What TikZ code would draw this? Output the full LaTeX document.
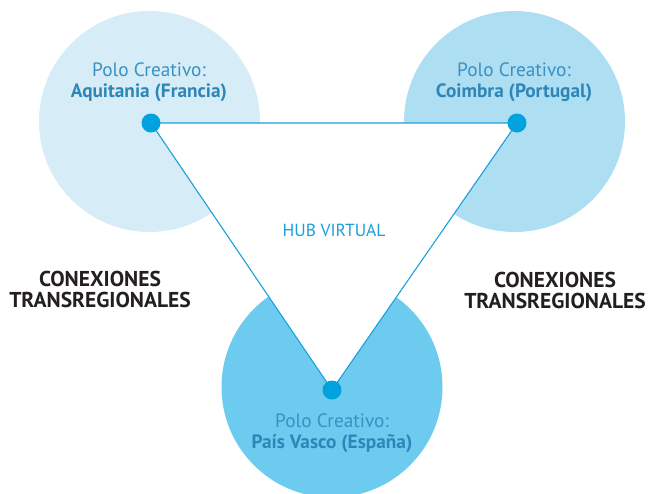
\documentclass[tikz,border=0pt]{standalone}
\usepackage{fontspec}
\setmainfont{PT Sans}
\definecolor{cA}{HTML}{D6EDF8}
\definecolor{cB}{HTML}{ADDEF2}
\definecolor{cC}{HTML}{6DCBEF}
\definecolor{dotc}{HTML}{00A3DE}
\definecolor{linec}{HTML}{1AA0DB}
\definecolor{txtb}{HTML}{2E86B8}
\definecolor{txtr}{HTML}{3A90C2}
\definecolor{dark}{HTML}{231F20}
\tikzset{
  polo/.style={circle, minimum size=221pt, inner sep=0pt, draw=none},
  dotn/.style={circle, fill=dotc, minimum size=19pt, inner sep=0pt},
  lbl/.style={align=center, font=\fontsize{19.3}{21}\selectfont, text=txtr},
  conex/.style={align=center, font=\fontsize{21.5}{21}\selectfont\bfseries, text=dark},
}
\begin{document}
\begin{tikzpicture}[x=1pt,y=-1pt]
\useasboundingbox (0,0) rectangle (650,493);
\begin{scope}
\clip (0,0) rectangle (650,493);
\node[polo, fill=cA] (cA) at (149.5,121.5) {};
\node[polo, fill=cB] (cB) at (514.5,121.5) {};
\node[polo, fill=cC] (cC) at (332,387) {};
\end{scope}
\coordinate (pA) at (151,123);
\coordinate (pB) at (517,123);
\coordinate (pC) at (332,390);
\filldraw[fill=white, draw=linec, line width=1.1pt] (pA) -- (pB) -- (pC) -- cycle;
\node[dotn] (dA) at (pA) {};
\node[dotn] (dB) at (pB) {};
\node[dotn] (dC) at (pC) {};
\node[lbl] (tA) at (149,82) {Polo Creativo:\\\textbf{\color{txtb}Aquitania (Francia)}};
\node[lbl] (tB) at (514,82) {Polo Creativo:\\\textbf{\color{txtb}Coimbra (Portugal)}};
\node[lbl] (tC) at (332,433) {Polo Creativo:\\\textbf{\color{txtb}País Vasco (España)}};
\node[lbl, text=linec, font=\fontsize{17.5}{21}\selectfont] (hub) at (334,230) {HUB VIRTUAL};
\node[conex] (kL) at (100,289) {CONEXIONES\\TRANSREGIONALES};
\node[conex] (kR) at (555,290) {CONEXIONES\\TRANSREGIONALES};
\end{tikzpicture}
\end{document}
